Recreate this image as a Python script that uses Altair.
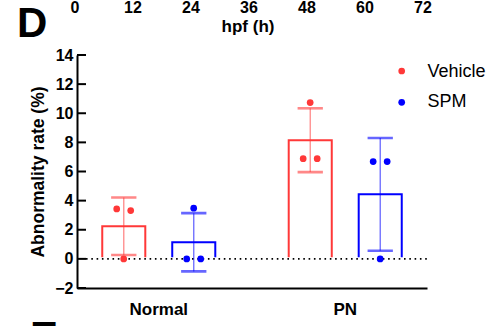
import altair as alt
import pandas as pd

# ---- data ----
cats = ["Normal", "PN"]
groups = ["Vehicle", "SPM"]
bar_cat = ["Normal", "Normal", "PN", "PN"]
bar_group = ["Vehicle", "SPM", "Vehicle", "SPM"]
means = [2.24, 1.14, 8.15, 4.43]
sds = [1.97, 2.0, 2.19, 3.87]

pt_cat = ["Normal"] * 6 + ["PN"] * 6
pt_group = ["Vehicle"] * 3 + ["SPM"] * 3 + ["Vehicle"] * 3 + ["SPM"] * 3
pt_vals = [3.43, 3.32, 0.0, 3.48, 0.0, 0.0, 10.73, 6.88, 6.88, 6.68, 6.68, 0.0]
pt_jit = [-1, 1, 0, 0, -1, 1, 0, -1, 1, -1, 1, 0]

y_ticks = [-2, 0, 2, 4, 6, 8, 10, 12, 14]
top_ticks = [0, 12, 24, 36, 48, 60, 72]

RED = "#ff3838"
BLUE = "#0000ff"
FONT = "Liberation Sans"

bars_df = pd.DataFrame({"cat": bar_cat, "group": bar_group, "mean": means, "sd": sds})
bars_df["lo"] = bars_df["mean"] - bars_df["sd"]
bars_df["hi"] = bars_df["mean"] + bars_df["sd"]
pts_df = pd.DataFrame({"cat": pt_cat, "group": pt_group, "v": pt_vals, "jit": pt_jit})
leg_df = pd.DataFrame({"group": groups, "i": list(range(len(groups)))})

W, H = 350, 233

yscale = alt.Scale(domain=[-2, 14], nice=False, zero=False)
yaxis = alt.Axis(values=y_ticks, ticks=False, grid=False, domainColor="black", domainWidth=2,
                 labelFont=FONT, labelFontWeight="bold", labelFontSize=16, labelColor="black",
                 labelPadding=4, labelOverlap=False, labelFlush=False,
                 title="Abnormality rate (%)", titleFont=FONT,
                 titleFontWeight="bold", titleFontSize=17.5, titleColor="black", titlePadding=7)
xscale = alt.Scale(domain=cats, paddingInner=0.3, paddingOuter=0.0885)
xaxis = alt.Axis(ticks=False, grid=False, domainColor="black", domainWidth=2, labelAngle=0,
                 labelFont=FONT, labelFontWeight="bold", labelFontSize=17, labelColor="black",
                 labelPadding=13, title=None)
offscale = alt.Scale(domain=groups, paddingInner=0.385, paddingOuter=0.125)
colscale = alt.Scale(domain=groups, range=[RED, BLUE])
STROKE = alt.Stroke("group:N", scale=colscale, legend=None)
COLOR = alt.Color("group:N", scale=colscale, legend=None)

X = alt.X("cat:N", scale=xscale, axis=xaxis)
XO = alt.XOffset("group:N", scale=offscale)
Y = lambda f: alt.Y(f, scale=yscale, axis=yaxis)

bars = alt.Chart(bars_df).mark_bar(fill="white", strokeWidth=2).encode(
    x=X, xOffset=XO, y=Y("mean:Q"), stroke=STROKE,
)
zero_df = pd.DataFrame({"z": [0]})
white = alt.Chart(zero_df).mark_rule(color="white", strokeWidth=3.5).encode(
    y=Y("z:Q"), x=alt.value(3), x2=alt.value(W)
)
zero = alt.Chart(zero_df).mark_rule(color="black", strokeWidth=1.8, strokeDash=[1.6, 3.7]).encode(
    y=Y("z:Q"), x=alt.value(9), x2=alt.value(W)
)
err = alt.Chart(bars_df).mark_rule(strokeWidth=1.3, opacity=0.6).encode(
    x=X, xOffset=XO, y=Y("lo:Q"), y2="hi:Q", stroke=STROKE,
)
cap_hi = alt.Chart(bars_df).mark_tick(size=24, thickness=1.3, opacity=0.6, orient="horizontal",
                                      filled=False, strokeWidth=1.3).encode(
    x=X, xOffset=XO, y=Y("hi:Q"), stroke=STROKE,
)
cap_lo = alt.Chart(bars_df).mark_tick(size=24, thickness=1.3, opacity=0.6, orient="horizontal",
                                      filled=False, strokeWidth=1.3).encode(
    x=X, xOffset=XO, y=Y("lo:Q"), stroke=STROKE,
)
yt = alt.Chart(pd.DataFrame({"t": y_ticks})).mark_rule(color="black", strokeWidth=2).encode(
    y=Y("t:Q"), x=alt.value(0), x2=alt.value(9)
)

# legend (group entries stacked in pixel space)
leg_dot = alt.Chart(leg_df).transform_calculate(ly="16 + datum.i * 31.3").mark_circle(
    size=45, opacity=1
).encode(x=alt.value(324.7), y=alt.Y("ly:Q", scale=None, axis=None), color=COLOR)
leg_txt = alt.Chart(leg_df).transform_calculate(ly="21.7 + datum.i * 30.3").mark_text(
    font=FONT, fontSize=18, color="black", align="left", baseline="alphabetic"
).encode(x=alt.value(350.5), y=alt.Y("ly:Q", scale=None, axis=None), text="group:N")

# labels of the panel above (pixel mapping of its 0-72 h axis)
top_lab = alt.Chart(pd.DataFrame({"h": top_ticks})).transform_calculate(
    px="-2 + datum.h * 348 / 72"
).mark_text(
    font=FONT, fontWeight="bold", fontSize=16, color="black", baseline="alphabetic"
).encode(
    x=alt.X("px:Q", scale=None, axis=None),
    y=alt.value(-42.5), text=alt.Text("h:Q"),
)
hpf = alt.Chart(pd.DataFrame({"t": ["hpf (h)"]})).mark_text(
    font=FONT, fontWeight="bold", fontSize=17, color="black", baseline="alphabetic"
).encode(x=alt.value(171), y=alt.value(-23), text="t:N")
dlab = alt.Chart(pd.DataFrame({"t": ["D"]})).mark_text(
    font=FONT, fontWeight="bold", fontSize=42, color="black", baseline="alphabetic", align="left"
).encode(x=alt.value(-60), y=alt.value(-18), text="t:N")
elab = alt.Chart(pd.DataFrame({"t": ["E"]})).mark_text(
    font=FONT, fontWeight="bold", fontSize=42, color="black", baseline="alphabetic", align="left"
).encode(x=alt.value(-47), y=alt.value(296), text="t:N")

A = alt.layer(bars, white, zero, err, cap_hi, cap_lo, yt, hpf, dlab, elab)

dots = alt.Chart(pts_df).transform_calculate(
    off="(datum.group == 'Vehicle' ? -5 : 5) + datum.jit"
).mark_circle(size=45, opacity=1).encode(
    x=X,
    xOffset=alt.XOffset("off:Q", scale=alt.Scale(domain=[-9.314, 9.314], range=[0, 130.4])),
    y=Y("v:Q"),
    color=COLOR,
)

chart = alt.layer(A, dots, top_lab, leg_dot, leg_txt).resolve_scale(xOffset="independent").properties(
    width=W, height=H,
    autosize=alt.AutoSizeParams(type="none"),
    padding={"left": 77, "top": 55, "right": 73, "bottom": 38},
).configure_view(stroke=None)

chart.save("out.html", embed_options={"renderer": "svg", "actions": False})
